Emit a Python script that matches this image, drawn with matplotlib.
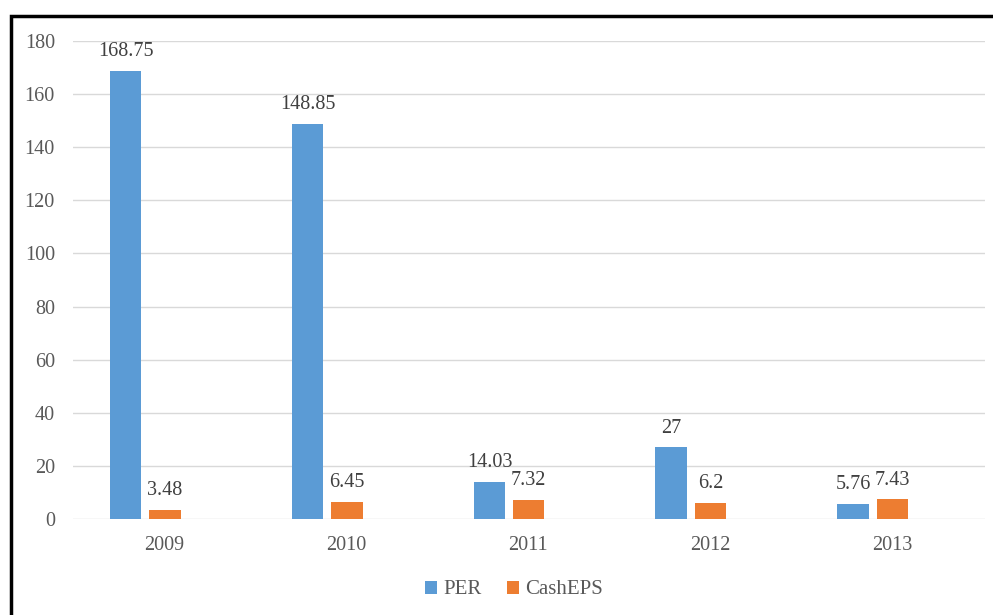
import matplotlib.pyplot as plt
import numpy as np
from matplotlib.patches import Rectangle

years = ["2009", "2010", "2011", "2012", "2013"]
per = [168.75, 148.85, 14.03, 27, 5.76]
cash_eps = [3.48, 6.45, 7.32, 6.2, 7.43]
per_labels = ["168.75", "148.85", "14.03", "27", "5.76"]
cash_labels = ["3.48", "6.45", "7.32", "6.2", "7.43"]

BLUE = "#5B9BD5"
ORANGE = "#ED7D31"
GRAY = "#595959"

plt.rcParams["font.family"] = ["Liberation Serif", "DejaVu Serif"]

fig = plt.figure(figsize=(9.93, 6.15), dpi=100)
W, H = 993, 615
ax = fig.add_axes([73 / W, 1 - 519 / H, (985 - 73) / W, (519 - 41) / H])

x = np.arange(len(years))
bw = 0.175
gap = 0.04
b1 = ax.bar(x - bw / 2 - gap / 2, per, bw, color=BLUE, label="PER")
b2 = ax.bar(x + bw / 2 + gap / 2, cash_eps, bw, color=ORANGE, label="CashEPS")

for bars, labels in ((b1, per_labels), (b2, cash_labels)):
    for rect, lab in zip(bars, labels):
        ax.annotate(lab, (rect.get_x() + rect.get_width() / 2, rect.get_height()),
                    xytext=(0, 7), textcoords="offset points", ha="center",
                    va="bottom", fontsize=14.5, color="#404040")

# group spacing ~181.75 px, first group centred at x=145 px
ax.set_xlim(-0.396, 4.616)
ax.set_ylim(0, 180)
ax.set_yticks(range(0, 181, 20))
# year labels sit a little right of the bar groups in the original
ax.set_xticks(x + 0.105)
ax.set_xticklabels(years)
ax.yaxis.grid(True, color="#D9D9D9", linewidth=1)
ax.set_axisbelow(True)
for s in ax.spines.values():
    s.set_visible(False)
ax.tick_params(length=0, labelsize=14.5, labelcolor=GRAY)
ax.tick_params(axis="y", pad=13)
ax.tick_params(axis="x", pad=12)

fig.legend(loc="center", bbox_to_anchor=(514 / W, 1 - 590 / H), ncol=2,
           frameon=False, fontsize=15, handlelength=0.6, handleheight=0.6,
           handletextpad=0.3, columnspacing=1.2, labelcolor=GRAY)

# black frame, cut off at the right and bottom edges
fig.patches.append(Rectangle((11 / W, -0.1), 1.2, 1 - 16 / H + 0.1,
                             transform=fig.transFigure, fill=False,
                             edgecolor="black", linewidth=2.5))

fig.savefig("out.png", dpi=100)
